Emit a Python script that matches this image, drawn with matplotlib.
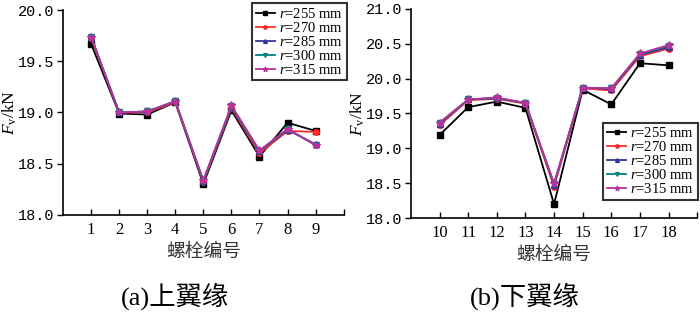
import matplotlib
matplotlib.use("Agg")
import matplotlib.pyplot as plt
from matplotlib.ticker import FixedLocator, FixedFormatter

plt.rcParams['font.family'] = ['Liberation Serif', 'Noto Sans CJK SC']
plt.rcParams['mathtext.fontset'] = 'custom'
plt.rcParams['mathtext.rm'] = 'Liberation Serif'
plt.rcParams['mathtext.it'] = 'Liberation Serif:italic'

bolts_a = [1, 2, 3, 4, 5, 6, 7, 8, 9]
bolts_b = [10, 11, 12, 13, 14, 15, 16, 17, 18]
radii = ["255", "270", "285", "300", "315"]

top_255 = [19.67, 18.99, 18.98, 19.10, 18.30, 19.02, 18.57, 18.90, 18.82]
top_270 = [19.73, 19.00, 19.00, 19.10, 18.32, 19.04, 18.60, 18.82, 18.81]
top_285 = [19.74, 19.00, 19.01, 19.11, 18.33, 19.05, 18.62, 18.83, 18.69]
top_300 = [19.74, 19.00, 19.01, 19.11, 18.33, 19.06, 18.62, 18.84, 18.68]
top_315 = [19.74, 19.00, 19.01, 19.11, 18.34, 19.07, 18.63, 18.84, 18.68]

bot_255 = [19.19, 19.59, 19.67, 19.58, 18.20, 19.84, 19.63, 20.22, 20.19]
bot_270 = [19.33, 19.69, 19.71, 19.64, 18.45, 19.86, 19.83, 20.32, 20.43]
bot_285 = [19.35, 19.70, 19.72, 19.65, 18.48, 19.87, 19.85, 20.34, 20.45]
bot_300 = [19.36, 19.70, 19.72, 19.65, 18.49, 19.87, 19.86, 20.35, 20.47]
bot_315 = [19.37, 19.70, 19.73, 19.65, 18.50, 19.87, 19.86, 20.36, 20.48]

yticks_a = [18.0, 18.5, 19.0, 19.5, 20.0]
yticks_b = [18.0, 18.5, 19.0, 19.5, 20.0, 20.5, 21.0]

colors = ['#000000', '#ff2a2a', '#33339a', '#008080', '#b8329c']
markers = ['s', 'o', '^', 'v', '*']
msizes = [4.5, 4, 4.5, 4.5, 6]

fig = plt.figure(figsize=(7.0, 3.16), dpi=100)
ax1 = fig.add_axes([0.090, 0.320, 0.401, 0.648])
ax2 = fig.add_axes([0.587, 0.310, 0.409, 0.662])

def style(ax, xs, series, yticks, xlim, legend_loc, legend_anchor, ylab_x):
    for vals, c, m, ms, r in zip(series, colors, markers, msizes, radii):
        ax.plot(xs, vals, color=c, marker=m, markersize=ms, linewidth=1.3,
                label=r'$r$=' + r + ' mm')
    ax.set_xlim(*xlim)
    ax.set_ylim(yticks[0], yticks[-1])
    ticks = list(xs) + [xlim[1]]
    ax.xaxis.set_major_locator(FixedLocator(ticks))
    ax.xaxis.set_major_formatter(FixedFormatter([str(x) for x in xs] + ['']))
    ax.set_yticks(yticks)
    ax.set_yticklabels(['%.1f' % v for v in yticks], family='Liberation Mono', fontsize=11)
    for lab in ax.get_xticklabels():
        lab.set_fontsize(12)
    ax.tick_params(axis='x', direction='in', length=4, width=1.0, pad=5)
    ax.tick_params(axis='y', direction='out', length=4, width=1.0, pad=2)
    ax.spines['top'].set_visible(False)
    ax.spines['right'].set_visible(False)
    ax.spines['left'].set_linewidth(1.2)
    ax.spines['bottom'].set_linewidth(1.2)
    ax.set_xlabel('螺栓编号', fontsize=13.5, family=['Noto Sans CJK SC'], color='#333333', labelpad=2)
    ax.set_ylabel(r'$F_{\rm v}$/kN', fontsize=12.5)
    ax.yaxis.set_label_coords(ylab_x, 0.5)
    leg = ax.legend(loc=legend_loc, bbox_to_anchor=legend_anchor, fontsize=10.5,
                    frameon=True, fancybox=False, edgecolor='black',
                    handlelength=1.3, handletextpad=0.3, labelspacing=0.0,
                    borderpad=0.25, borderaxespad=0.0, markerscale=0.6)
    leg.get_frame().set_linewidth(1.5)

style(ax1, bolts_a, [top_255, top_270, top_285, top_300, top_315], yticks_a,
      (0, 10), 'upper right', (1.011, 1.034), -0.155)
style(ax2, bolts_b, [bot_255, bot_270, bot_285, bot_300, bot_315], yticks_b,
      (9, 19), 'lower right', (1.003, 0.086), -0.155)

fig.text(0.25, 0.062, '(a)上翼缘', fontsize=19, ha='center', va='center',
         family=['Liberation Serif', 'Noto Sans CJK SC'])
fig.text(0.75, 0.062, '(b)下翼缘', fontsize=19, ha='center', va='center',
         family=['Liberation Serif', 'Noto Sans CJK SC'])

fig.savefig('out.png', dpi=100)
